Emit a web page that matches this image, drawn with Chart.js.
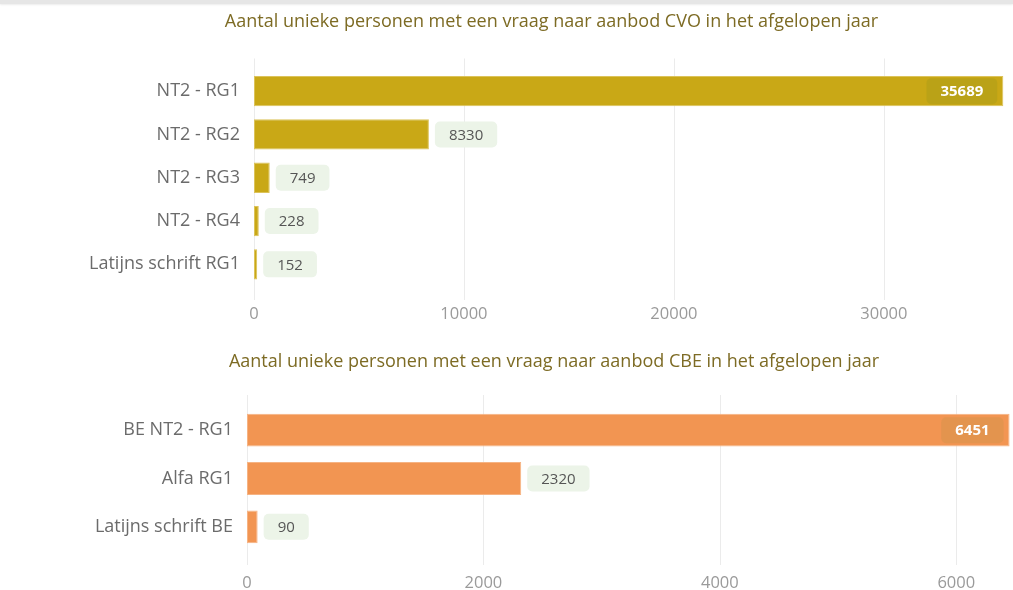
<!DOCTYPE html>
<html>
<head>
<meta charset="utf-8">
<title>Aantal unieke personen</title>
<script src="https://cdn.jsdelivr.net/npm/chart.js@4/dist/chart.umd.min.js"></script>
<style>
    html, body { margin: 0; padding: 0; background: #fff; overflow: hidden; }
    .top-strip { position: absolute; left: 0; top: 0; width: 1013px; height: 4px; background: #e6e6e6; box-shadow: 0 1px 2px rgba(0,0,0,0.08); z-index: 2; }
    .chart-box { position: absolute; left: 0; width: 1013px; }
    #box1 { top: 0; height: 342px; }
    #box2 { top: 338px; height: 277px; }
</style>
</head>
<body>
<div class="top-strip"></div>
<div class="chart-box" id="box1"><canvas id="chartCvo"></canvas></div>
<div class="chart-box" id="box2"><canvas id="chartCbe"></canvas></div>

<script>
// Data
const cvoLabels = ['NT2 - RG1', 'NT2 - RG2', 'NT2 - RG3', 'NT2 - RG4', 'Latijns schrift RG1'];
const cvoValues = [35689, 8330, 749, 228, 152];
const cvoTicks = [0, 10000, 20000, 30000];

const cbeLabels = ['BE NT2 - RG1', 'Alfa RG1', 'Latijns schrift BE'];
const cbeValues = [6451, 2320, 90];
const cbeTicks = [0, 2000, 4000, 6000];

const FONT = '"Open Sans", "Noto Sans", sans-serif';

// Vertical grid lines that run a bit past the plot area
const extendedGrid = {
    id: 'extendedGrid',
    beforeDatasetsDraw: function(chart) {
        const area = chart.chartArea;
        const x = chart.scales.x;
        const ctx = chart.ctx;
        ctx.save();
        ctx.strokeStyle = '#ebebeb';
        ctx.lineWidth = 1;
        x.ticks.forEach(function(t) {
            const px = Math.round(x.getPixelForValue(t.value)) + 0.5;
            ctx.beginPath();
            ctx.moveTo(px, area.top - 11);
            ctx.lineTo(px, area.bottom + 14);
            ctx.stroke();
        });
        ctx.restore();
    }
};

// Value badges next to (or inside) each bar
const valueBadges = {
    id: 'valueBadges',
    afterDatasetsDraw: function(chart, args, opts) {
        const ctx = chart.ctx;
        const area = chart.chartArea;
        const meta = chart.getDatasetMeta(0);
        const values = chart.data.datasets[0].data;
        ctx.save();
        ctx.textBaseline = 'middle';
        ctx.textAlign = 'center';
        meta.data.forEach(function(bar, i) {
            const text = String(values[i]);
            ctx.font = '600 15px ' + FONT;
            const w = ctx.measureText(text).width + 28;
            const h = 26;
            let left = bar.x + 6;
            let inside = false;
            if (left + w > area.right) {
                left = bar.x - 6 - w;
                inside = true;
            }
            const top = bar.y - h / 2;
            ctx.fillStyle = inside ? opts.insideBg : '#ecf4e8';
            ctx.beginPath();
            ctx.roundRect(left, top, w, h, 5);
            ctx.fill();
            ctx.font = (inside ? '700 ' : '400 ') + '15px ' + FONT;
            ctx.fillStyle = inside ? '#ffffff' : '#555555';
            ctx.fillText(text, left + w / 2, bar.y + 1);
        });
        ctx.restore();
    }
};

function makeChart(canvasId, labels, values, ticks, opt) {
    const ctx = document.getElementById(canvasId);
    return new Chart(ctx, {
        type: 'bar',
        data: {
            labels: labels,
            datasets: [{
                data: values,
                backgroundColor: opt.color,
                borderColor: opt.border,
                borderWidth: 1,
                borderSkipped: false,
                barPercentage: opt.barPct,
                categoryPercentage: 1
            }]
        },
        options: {
            indexAxis: 'y',
            responsive: true,
            maintainAspectRatio: false,
            animation: false,
            layout: { padding: { left: opt.padLeft, right: 0, top: 0, bottom: 0 } },
            plugins: {
                legend: { display: false },
                tooltip: { enabled: false },
                title: {
                    display: true,
                    text: opt.title,
                    color: '#7d6b24',
                    font: { family: FONT, size: 18, weight: 'normal' },
                    padding: { top: opt.titleTop, bottom: opt.titleBottom }
                },
                valueBadges: { insideBg: opt.insideBg }
            },
            scales: {
                x: {
                    min: 0,
                    max: opt.max,
                    grid: { display: false, drawTicks: false },
                    border: { display: false },
                    afterBuildTicks: function(scale) {
                        scale.ticks = ticks.map(function(v) { return { value: v }; });
                    },
                    ticks: {
                        color: '#9a9a9a',
                        padding: opt.tickPad,
                        font: { family: FONT, size: 16.5 },
                        callback: function(v) { return String(v); }
                    }
                },
                y: {
                    grid: { display: false, drawTicks: false },
                    border: { display: false },
                    afterFit: function(scale) { scale.width = opt.axisWidth; },
                    ticks: {
                        color: '#6b6b6b',
                        padding: 14,
                        font: { family: FONT, size: 18 }
                    }
                }
            }
        },
        plugins: [extendedGrid, valueBadges]
    });
}

makeChart('chartCvo', cvoLabels, cvoValues, cvoTicks, {
    title: 'Aantal unieke personen met een vraag naar aanbod CVO in het afgelopen jaar',
    color: '#c9a816',
    border: '#dcc35a',
    insideBg: 'rgba(120,140,30,0.18)',
    barPct: 0.7,
    max: 36150,
    padLeft: 90,
    axisWidth: 164,
    titleTop: 11.2,
    titleBottom: 36.7,
    tickPad: 18.1
});

makeChart('chartCbe', cbeLabels, cbeValues, cbeTicks, {
    title: 'Aantal unieke personen met een vraag naar aanbod CBE in het afgelopen jaar',
    color: '#f29552',
    border: '#f6b383',
    insideBg: 'rgba(150,140,60,0.16)',
    barPct: 0.68,
    max: 6480,
    padLeft: 95,
    axisWidth: 152,
    titleTop: 13.2,
    titleBottom: 33.2,
    tickPad: 22.1
});
</script>
</body>
</html>
